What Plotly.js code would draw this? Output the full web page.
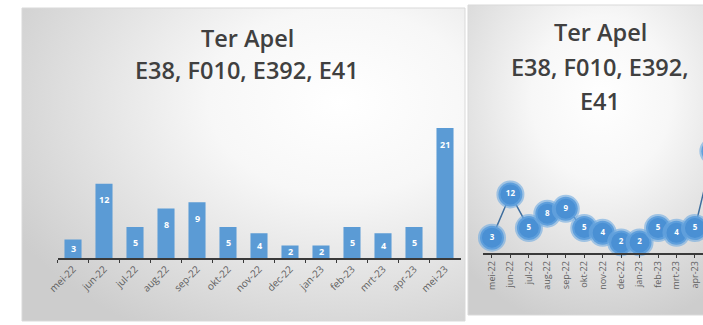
<!DOCTYPE html>
<html>
<head>
<meta charset="utf-8">
<script src="https://cdn.plot.ly/plotly-3.0.1.min.js"></script>
<style>html,body{margin:0;padding:0;background:#fff;overflow:hidden;width:703px;height:325px;}#chart{width:725px;height:325px;}</style>
</head>
<body>
<div id="chart"></div>
<script>
// Data
const months = ["mei-22","jun-22","jul-22","aug-22","sep-22","okt-22","nov-22","dec-22","jan-23","feb-23","mrt-23","apr-23","mei-23"];
const counts = [3, 12, 5, 8, 9, 5, 4, 2, 2, 5, 4, 5, 21];
const titleLine1 = "Ter Apel";
const titleLine2 = "E38, F010, E392, E41";
const titleLine2a = "E38, F010, E392,";
const titleLine2b = "E41";

// The window is 703 px wide; the right-hand chart runs past its edge (as in the reference)
const VIEW_W = 703, W = 725, H = 325;
const px = v => v / W;
const py = v => 1 - v / H;

function gradUri(cx, cy, r, stops) {
  const s = stops.map(st => `<stop offset='${st[0]}' stop-color='${st[1]}'/>`).join('');
  const svg = `<svg xmlns='http://www.w3.org/2000/svg' width='100' height='100' preserveAspectRatio='none'><defs><radialGradient id='g' cx='${cx}' cy='${cy}' r='${r}' gradientUnits='objectBoundingBox'>${s}</radialGradient></defs><rect width='100' height='100' fill='url(#g)'/></svg>`;
  return 'data:image/svg+xml;base64,' + btoa(svg);
}

// left chart geometry
const yTop1 = 22.3, yBotPx1 = 258, yTopPx1 = 120;
const pxPerUnit1 = (yBotPx1 - yTopPx1) / yTop1;
// right chart geometry
const x2Left = 482.75, step2 = 18.45;
const x2Right = x2Left + months.length * step2;
const visible2 = months.filter((m, i) => x2Left + (i + 0.5) * step2 + 8 < VIEW_W);

const barTrace = {
  type: 'bar', x: months, y: counts, xaxis: 'x', yaxis: 'y',
  marker: {color: '#5b9bd5'},
  width: 0.55,
  hoverinfo: 'skip'
};

const lineTrace = {
  type: 'scatter', mode: 'lines+markers+text', x: months, y: counts, xaxis: 'x2', yaxis: 'y2',
  line: {color: '#3f6e9e', width: 1.5},
  marker: {size: 24, color: '#4a90d4', line: {color: 'rgba(110,170,225,0.6)', width: 4}},
  text: counts.map((v, i) => visible2.includes(months[i]) ? String(v) : ''), textposition: 'middle center',
  textfont: {color: '#ffffff', size: 8, family: 'Open Sans', weight: 700},
  cliponaxis: false, hoverinfo: 'skip'
};

const titleFont = {family: 'Open Sans', size: 23.5, color: '#404040', weight: 600};

const barLabels = counts.map((v, i) => ({
  text: String(v), x: months[i], y: v, xref: 'x', yref: 'y',
  yshift: -Math.min(16, v * pxPerUnit1 / 2), showarrow: false,
  font: {family: 'Open Sans', size: 9, color: '#ffffff', weight: 700},
  xanchor: 'center', yanchor: 'middle'
}));

const layout = {
  width: W, height: H,
  margin: {l: 0, r: 0, t: 0, b: 0},
  paper_bgcolor: '#ffffff', plot_bgcolor: 'rgba(0,0,0,0)',
  showlegend: false,
  xaxis: {
    domain: [px(57.5), px(460.5)], anchor: 'y', type: 'category',
    showline: true, linecolor: '#3a3a3a', linewidth: 1.5,
    ticks: 'outside', ticklen: 3, tickcolor: '#3a3a3a', tickson: 'boundaries',
    tickangle: -45, tickfont: {family: 'Open Sans', size: 10, color: '#606060'},
    showgrid: false, zeroline: false, fixedrange: true
  },
  yaxis: {
    domain: [py(yBotPx1), py(yTopPx1)], anchor: 'x', range: [0, yTop1],
    visible: false, showgrid: false, zeroline: false, fixedrange: true
  },
  xaxis2: {
    domain: [px(x2Left), px(x2Right)], anchor: 'y2', type: 'category', range: [-0.5, months.length - 0.5],
    tickmode: 'array', tickvals: visible2, ticktext: visible2,
    showline: true, linecolor: '#3a3a3a', linewidth: 1.5,
    ticks: 'outside', ticklen: 3, tickcolor: '#3a3a3a',
    tickangle: -90, tickfont: {family: 'Open Sans', size: 9, color: '#606060'},
    showgrid: false, zeroline: false, fixedrange: true
  },
  yaxis2: {
    domain: [py(253), py(120)], anchor: 'x2', range: [-0.2, 27.5],
    visible: false, showgrid: false, zeroline: false, fixedrange: true
  },
  images: [
    {source: gradUri(0.72, 0.3, 0.85, [[0, '#ffffff'], [0.35, '#f7f7f7'], [1, '#cdcdcd']]),
     xref: 'paper', yref: 'paper', x: px(22), y: py(8), sizex: px(465) - px(22), sizey: py(8) - py(321),
     sizing: 'stretch', layer: 'below', xanchor: 'left', yanchor: 'top'},
    {source: gradUri(0.5, 0.3, 0.75, [[0, '#ffffff'], [0.35, '#f7f7f7'], [1, '#cdcdcd']]),
     xref: 'paper', yref: 'paper', x: px(468), y: py(5), sizex: px(735) - px(468), sizey: py(5) - py(315),
     sizing: 'stretch', layer: 'below', xanchor: 'left', yanchor: 'top'}
  ],
  shapes: [
    {type: 'rect', xref: 'paper', yref: 'paper', x0: px(22), x1: px(465), y0: py(321), y1: py(8),
     line: {color: '#d9d9d9', width: 1}, fillcolor: 'rgba(0,0,0,0)', layer: 'below'},
    {type: 'rect', xref: 'paper', yref: 'paper', x0: px(468), x1: 1.01, y0: py(315), y1: py(5),
     line: {color: '#d9d9d9', width: 1}, fillcolor: 'rgba(0,0,0,0)', layer: 'below'}
  ],
  annotations: [
    {text: titleLine1, xref: 'paper', yref: 'paper', x: px(247), y: py(38), showarrow: false, font: titleFont, xanchor: 'center', yanchor: 'middle'},
    {text: titleLine2, xref: 'paper', yref: 'paper', x: px(247), y: py(70), showarrow: false, font: titleFont, xanchor: 'center', yanchor: 'middle'},
    {text: titleLine1, xref: 'paper', yref: 'paper', x: px(600), y: py(32), showarrow: false, font: titleFont, xanchor: 'center', yanchor: 'middle'},
    {text: titleLine2a, xref: 'paper', yref: 'paper', x: px(600), y: py(67), showarrow: false, font: titleFont, xanchor: 'center', yanchor: 'middle'},
    {text: titleLine2b, xref: 'paper', yref: 'paper', x: px(600), y: py(101), showarrow: false, font: titleFont, xanchor: 'center', yanchor: 'middle'}
  ].concat(barLabels)
};

Plotly.newPlot('chart', [barTrace, lineTrace], layout, {staticPlot: true, displayModeBar: false});
</script>
</body>
</html>
